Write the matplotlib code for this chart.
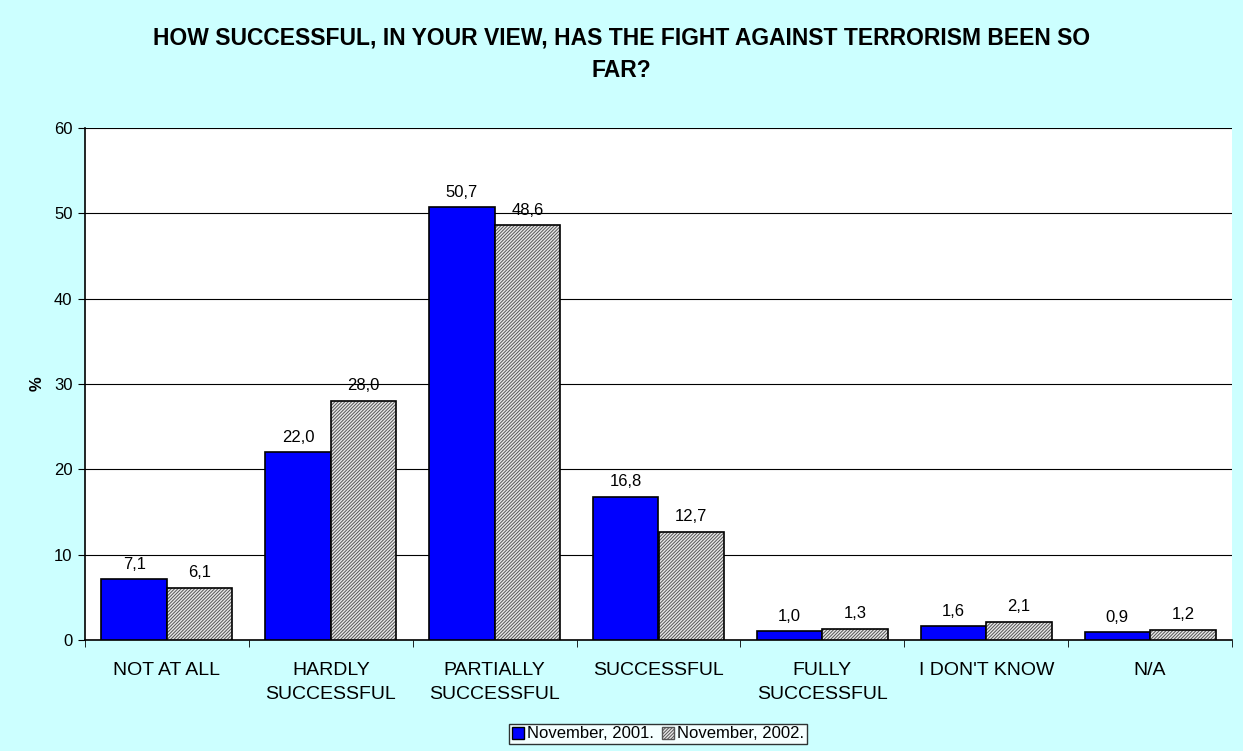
import matplotlib.pyplot as plt
import numpy as np
from matplotlib.patches import Patch

plt.rcParams['font.family'] = ['Liberation Sans', 'DejaVu Sans']
plt.rcParams['hatch.linewidth'] = 0.7

categories = ["NOT AT ALL", "HARDLY\nSUCCESSFUL", "PARTIALLY\nSUCCESSFUL", "SUCCESSFUL",
              "FULLY\nSUCCESSFUL", "I DON'T KNOW", "N/A"]
nov_2001 = [7.1, 22.0, 50.7, 16.8, 1.0, 1.6, 0.9]
nov_2002 = [6.1, 28.0, 48.6, 12.7, 1.3, 2.1, 1.2]
series_names = ["November, 2001.", "November, 2002."]

fig = plt.figure(figsize=(12.43, 7.51), dpi=100, facecolor='#ccffff')
ax = fig.add_axes([85 / 1243, 1 - 640 / 751, (1232 - 85) / 1243, (640 - 128) / 751])
ax.set_facecolor('white')

x = np.arange(len(categories))
w = 0.4
hatch_bg, hatch_fg = '#e8e8e8', '#555555'
hatch_pat = '//////////'

ax.bar(x - w / 2, nov_2001, w, color='#0000ff', edgecolor='black', linewidth=1.2, zorder=3)
# hatched fill first, black outline on top
ax.bar(x + w / 2, nov_2002, w, color=hatch_bg, edgecolor=hatch_fg, hatch=hatch_pat, linewidth=0, zorder=3)
ax.bar(x + w / 2, nov_2002, w, fill=False, edgecolor='black', linewidth=1.2, zorder=4)

fmt = lambda v: f"{v:.1f}".replace('.', ',')
for xi, v in zip(x, nov_2001):
    ax.text(xi - w / 2, v + 0.9, fmt(v), ha='center', va='bottom', fontsize=12)
for xi, v in zip(x, nov_2002):
    ax.text(xi + w / 2, v + 0.9, fmt(v), ha='center', va='bottom', fontsize=12)

ax.set_xlim(-0.5, len(categories) - 0.5)
ax.set_ylim(0, 60)
ax.set_yticks(range(0, 61, 10))
ax.yaxis.grid(True, color='black', linewidth=0.8, zorder=0)
ax.set_axisbelow(True)

ax.set_xticks(x)
ax.set_xticklabels(categories, fontsize=14, linespacing=1.5)
ax.set_xticks(np.arange(-0.5, len(categories)), minor=True)
ax.tick_params(axis='x', which='major', length=0, pad=16)
ax.tick_params(axis='x', which='minor', length=5, direction='out')
ax.tick_params(axis='y', length=5, direction='out', labelsize=12, pad=4)

for s in ['top', 'right']:
    ax.spines[s].set_visible(False)
for s in ['left', 'bottom']:
    ax.spines[s].set_color('black')
    ax.spines[s].set_linewidth(1.2)

ax.set_ylabel('%', fontsize=12, fontweight='bold', labelpad=7)

fig.text(0.5, 1 - 54.5 / 751, "HOW SUCCESSFUL, IN YOUR VIEW, HAS THE FIGHT AGAINST TERRORISM BEEN SO\nFAR?",
         ha='center', va='center', fontsize=16.5, fontweight='bold', linespacing=1.5)

handles = [Patch(facecolor='#0000ff', edgecolor='black'),
           Patch(facecolor=hatch_bg, edgecolor=hatch_fg, hatch=hatch_pat)]
leg = fig.legend(handles, series_names, loc='center', bbox_to_anchor=(658 / 1243, 1 - 734 / 751),
                 ncol=2, fontsize=12, frameon=True, fancybox=False, edgecolor='black',
                 handlelength=0.7, handleheight=0.7, handletextpad=0.2, columnspacing=0.5,
                 borderpad=0.15, borderaxespad=0)
leg.get_frame().set_linewidth(1.0)

fig.savefig('out.png', dpi=100, facecolor=fig.get_facecolor())
